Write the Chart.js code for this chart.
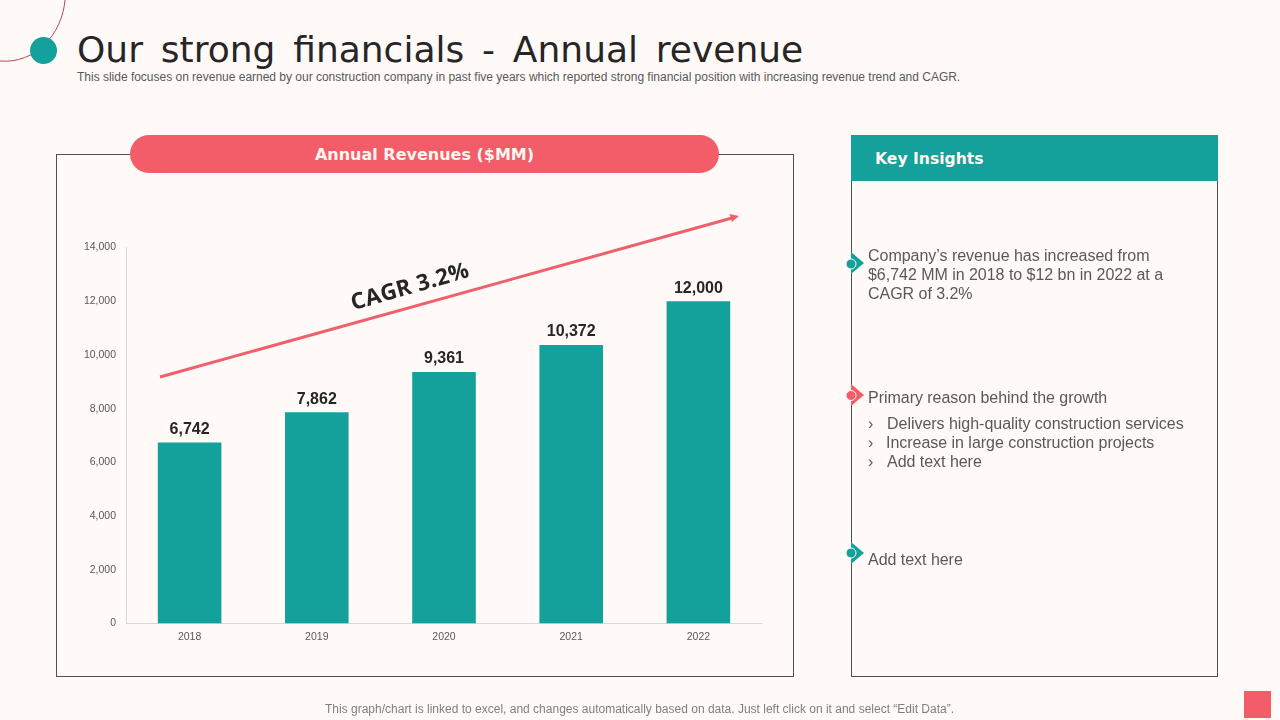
<!DOCTYPE html>
<html><head><meta charset="utf-8">
<script src="https://cdn.jsdelivr.net/npm/chart.js@4/dist/chart.umd.min.js"></script>
<style>
html,body{margin:0;padding:0;width:1280px;height:720px;overflow:hidden;background:#FFFAF7;font-family:"Liberation Sans",Arial,sans-serif}
.a{position:absolute;white-space:nowrap}
#title{left:77px;top:27px;font:36px/46px "DejaVu Sans";color:#262626;word-spacing:6.4px}
#sub{left:77px;top:70px;font:12px/15px "Liberation Sans";color:#595959;letter-spacing:-.012px}
#box1{left:56px;top:154px;width:736px;height:521px;border:1px solid #505050}
#pill{left:130px;top:135px;width:589px;height:38px;border-radius:19px;background:#F35D69;color:#FFF6F0;font:bold 16px/39px "DejaVu Sans";text-align:center}
#box2{left:851px;top:135px;width:365px;height:540px;border:1px solid #505050}
#head{left:851px;top:135px;width:367px;height:46px;background:#14A19B;color:#FFF6F0;font:bold 15.600px/49px "DejaVu Sans";text-indent:24px}
.t{font:16px/19px "Liberation Sans";color:#595959;letter-spacing:-.03px}
#foot{left:0;width:1279px;text-align:center;top:702px;font:12px/15px "Liberation Sans";color:#7F7F7F}
#sq{left:1244px;top:691px;width:27px;height:27px;background:#F35D69}
#cv{position:absolute;left:59px;top:230px}
svg{position:absolute;left:0;top:0}
#cagr{left:355px;top:288px;font:bold 22.500px/28px "Open Sans";color:#262626;transform:rotate(-16deg);transform-origin:left bottom;letter-spacing:.3px}
</style></head><body>
<svg width="1280" height="720">
<path d="M0 61 C35 64 62 35 65 0" fill="none" stroke="#B5475A" stroke-width="1"/>
<circle cx="43.500" cy="50.500" r="13.500" fill="#14A19B"/>
</svg>
<div class="a" id="title">Our strong financials - Annual revenue</div>
<div class="a" id="sub">This slide focuses on revenue earned by our construction company in past five years which reported strong financial position with increasing revenue trend and CAGR.</div>
<div class="a" id="box1"></div>
<div class="a" id="pill">Annual Revenues ($MM)</div>
<div class="a" id="box2"></div>
<div class="a" id="head">Key Insights</div>
<canvas id="cv" width="720" height="420" style="width:720px;height:420px"></canvas>
<svg width="1280" height="720">
<line x1="160" y1="377" x2="732" y2="218" stroke="#F0606C" stroke-width="3"/>
<path d="M739 216 L729.500 214 L732 222 Z" fill="#F0606C"/>
<path d="M851 252 L864 263 L851 274 Z" fill="#14A19B"/><circle cx="851" cy="264" r="5" fill="#14A19B" stroke="#FFFAF7" stroke-width="1"/>
<path d="M851 384 L864 395 L851 406 Z" fill="#F35D69"/><circle cx="851" cy="395.500" r="5" fill="#F35D69" stroke="#FFFAF7" stroke-width="1"/>
<path d="M851 542 L864 553 L851 564 Z" fill="#14A19B"/><circle cx="851" cy="553" r="5" fill="#14A19B" stroke="#FFFAF7" stroke-width="1"/>
</svg>
<div class="a" id="cagr">CAGR 3.2%</div>
<div class="a t" style="left:868px;top:246px">Company’s revenue has increased from<br>$6,742 MM in 2018 to $12 bn in 2022 at a<br>CAGR of 3.2%</div>
<div class="a t" style="left:868px;top:388px">Primary reason behind the growth</div>
<div class="a t" style="left:868px;top:414px">›</div><div class="a t" style="left:887px;top:414px">Delivers high-quality construction services</div>
<div class="a t" style="left:868px;top:433px">›</div><div class="a t" style="left:886px;top:433px">Increase in large construction projects</div>
<div class="a t" style="left:868px;top:452px">›</div><div class="a t" style="left:887px;top:452px">Add text here</div>
<div class="a t" style="left:868px;top:550px">Add text here</div>
<div class="a" id="foot">This graph/chart is linked to excel, and changes automatically based on data. Just left click on it and select “Edit Data”.</div>
<div class="a" id="sq"></div>
<script>
const categories = ["2018","2019","2020","2021","2022"];
const revenues = [6742,7862,9361,10372,12000];
const yMax = 14000;
const yStep = 2000;
const barColor = "#14A19B";

const valueLabels = {
  id:"valueLabels",
  afterDatasetsDraw(c){
    const ctx=c.ctx; ctx.save();
    ctx.font='bold 16px "Liberation Sans"'; ctx.fillStyle="#262626";
    ctx.textAlign="center"; ctx.textBaseline="bottom";
    c.getDatasetMeta(0).data.forEach((b,i)=>{
      ctx.fillText(revenues[i].toLocaleString("en-US"), b.x, b.y-5);
    });
    ctx.restore();
  }
};
new Chart(document.getElementById("cv"),{
  type:"bar",
  data:{labels:categories,datasets:[{data:revenues,backgroundColor:barColor,barPercentage:1,categoryPercentage:0.5}]},
  options:{
    responsive:false,animation:false,
    layout:{padding:{left:0,right:17,top:17.5,bottom:0}},
    plugins:{legend:{display:false},tooltip:{enabled:false},title:{display:false}},
    scales:{
      x:{
        grid:{display:true,drawOnChartArea:false,drawTicks:false,color:"#D9D9D9"},
        border:{color:"#D9D9D9"},
        afterFit(s){s.height=26.5},
        ticks:{color:"#595959",font:{family:"Liberation Sans",size:10.5},padding:7,maxRotation:0}
      },
      y:{
        min:0,max:yMax,
        grid:{display:false,drawTicks:false},
        border:{color:"#D9D9D9"},
        afterFit(s){s.width=67},
        ticks:{stepSize:yStep,color:"#595959",font:{family:"Liberation Sans",size:10.5},padding:10,
          callback:v=>v.toLocaleString("en-US")}
      }
    }
  },
  plugins:[valueLabels]
});
</script>
</body></html>
